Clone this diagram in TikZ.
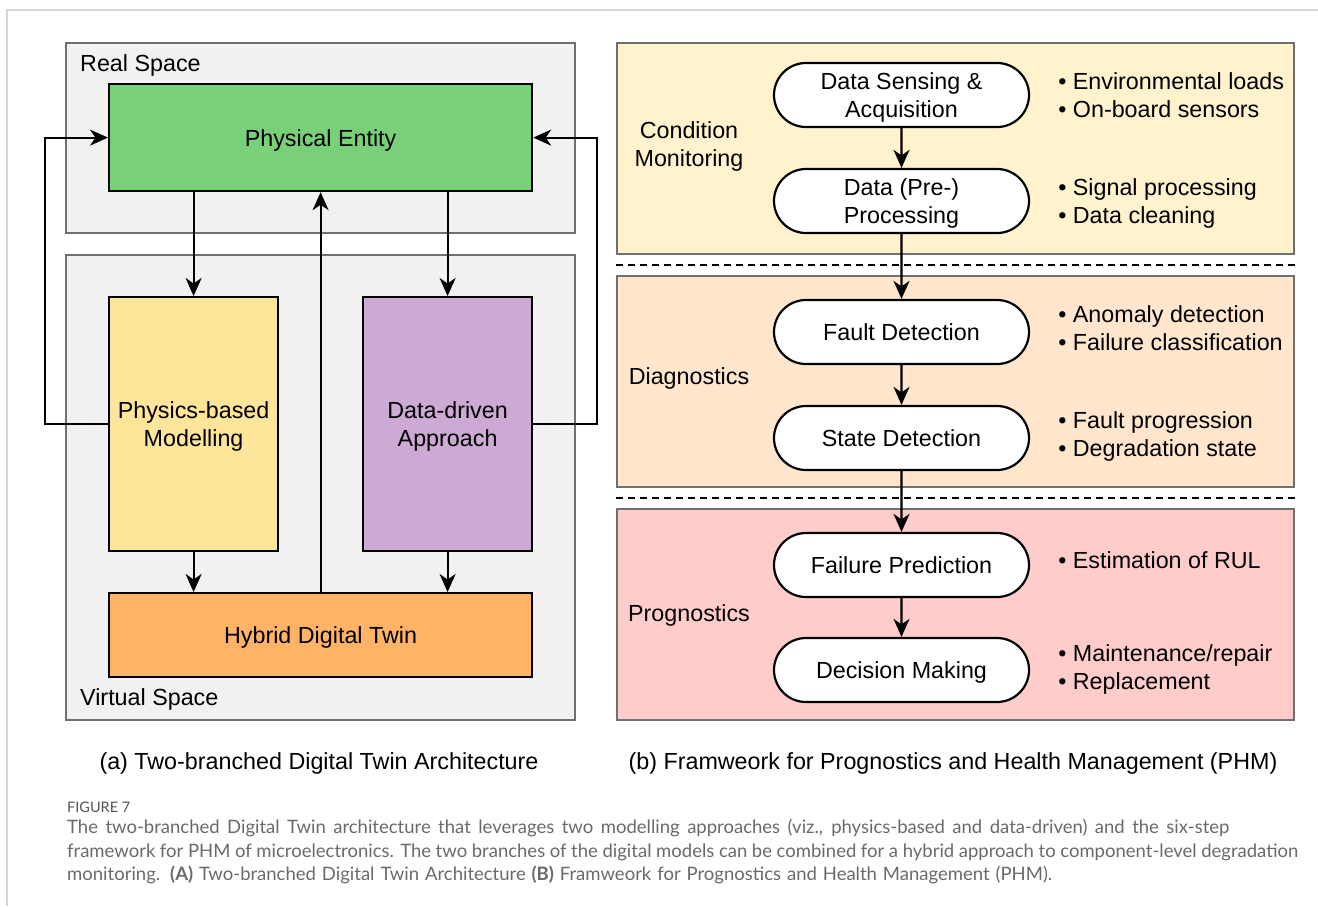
\documentclass[tikz,border=0pt]{standalone}
\usepackage{fontspec}
\setmainfont{Liberation Sans}
\newfontfamily\capfont{Lato}
\usetikzlibrary{arrows.meta,shapes.misc,calc}
\definecolor{framegray}{HTML}{D6D6D6}
\definecolor{contfill}{HTML}{F1F1F1}
\definecolor{contdraw}{HTML}{707070}
\definecolor{pegreen}{HTML}{78D178}
\definecolor{pmyellow}{HTML}{FEE599}
\definecolor{ddpurple}{HTML}{CDAAD4}
\definecolor{hyorange}{HTML}{FFB366}
\definecolor{cmband}{HTML}{FFF2CC}
\definecolor{dgband}{HTML}{FFE6CC}
\definecolor{pgband}{HTML}{FFCCCC}
\definecolor{capgray}{HTML}{6A6A6A}
\definecolor{figgray}{HTML}{555555}
\begin{document}
\begin{tikzpicture}[x=1pt,y=-1pt,
  every node/.style={font=\fontsize{23.3}{28}\selectfont, text depth=0pt},
  container/.style={draw=contdraw, fill=contfill, line width=2pt, anchor=north west, inner sep=0pt},
  band/.style={draw=contdraw, line width=2pt, anchor=north west, inner sep=0pt, minimum width=677pt, minimum height=211pt},
  box/.style={draw=black, line width=2.2pt, anchor=north west, inner sep=0pt, align=center},
  pill/.style={draw=black, fill=white, line width=2.2pt, rounded rectangle, minimum width=255pt, minimum height=64pt, inner sep=0pt, align=center},
  bullets/.style={anchor=west, align=left, inner sep=0pt},
  arr/.style={line width=2.2pt, -{Stealth[length=18pt, width=16pt, inset=5.5pt]}},
  sep/.style={line width=2pt, dash pattern=on 7pt off 5pt},
  captxt/.style={anchor=base west, inner sep=0pt, text=capgray, font=\capfont\fontsize{18.5}{23}\selectfont}
]
\useasboundingbox (0,0) rectangle (1318,906);
\fill[white] (0,0) rectangle (1318,906);
\draw[framegray, line width=1.5pt] (7,906) -- (7,10) -- (1318,10);

% ---------- (a) ----------
\node[container, minimum width=509pt, minimum height=190pt] (real) at (65,42) {};
\node[container, minimum width=509pt, minimum height=465pt] (virt) at (65,254) {};
\node[anchor=base west, inner sep=0pt] (rsl) at (80,71) {Real Space};
\node[anchor=base west, inner sep=0pt] (vsl) at (80,705) {Virtual Space};

\node[box, fill=pegreen, minimum width=423pt, minimum height=107pt] (pe) at (108,83) {Physical Entity};
\node[box, fill=pmyellow, minimum width=169pt, minimum height=254pt] (pm) at (108,296) {Physics-based\\Modelling};
\node[box, fill=ddpurple, minimum width=169pt, minimum height=254pt] (dd) at (362,296) {Data-driven\\Approach};
\node[box, fill=hyorange, minimum width=423pt, minimum height=84pt] (hy) at (108,592) {Hybrid Digital Twin};

\draw[arr] (pm.north |- pe.south) -- (pm.north);
\draw[arr] (dd.north |- pe.south) -- (dd.north);
\draw[arr] (hy.north) -- (pe.south);
\draw[arr] (pm.south) -- (pm.south |- hy.north);
\draw[arr] (dd.south) -- (dd.south |- hy.north);
\draw[arr] (pm.west) -- ++(-63,0) |- (pe.west);
\draw[arr] (dd.east) -- ++(64,0) |- (pe.east);

\node (capa) at (319,761) {(a) Two-branched Digital Twin Architecture};

% ---------- (b) ----------
\node[band, fill=cmband] (cm) at (616,42) {};
\node[band, fill=dgband] (dg) at (616,275) {};
\node[band, fill=pgband] (pg) at (616,508) {};
\draw[sep] ($(cm.south west)!0.5!(dg.north west)$) -- ($(cm.south east)!0.5!(dg.north east)$);
\draw[sep] ($(dg.south west)!0.5!(pg.north west)$) -- ($(dg.south east)!0.5!(pg.north east)$);

\node[align=center] (cml) at (689,144) {Condition\\Monitoring};
\node (dgl) at (689,376) {Diagnostics};
\node (pgl) at (689,613) {Prognostics};

\node[pill] (ds) at (901.5,95) {Data Sensing \&\\Acquisition};
\node[pill] (dp) at (901.5,201) {Data (Pre-)\\Processing};
\node[pill] (fd) at (901.5,332) {Fault Detection};
\node[pill] (sd) at (901.5,438) {State Detection};
\node[pill] (fp) at (901.5,565) {Failure Prediction};
\node[pill] (dm) at (901.5,670) {Decision Making};

\draw[arr] (ds) -- (dp);
\draw[arr] (dp) -- (fd);
\draw[arr] (fd) -- (sd);
\draw[arr] (sd) -- (fp);
\draw[arr] (fp) -- (dm);

\node[bullets] (b1) at ([xshift=28pt]ds.east) {• Environmental loads\\• On-board sensors};
\node[bullets] (b2) at ([xshift=28pt]dp.east) {• Signal processing\\• Data cleaning};
\node[bullets] (b3) at ([xshift=28pt,yshift=4pt]fd.east) {• Anomaly detection\\• Failure classification};
\node[bullets] (b4) at ([xshift=28pt,yshift=3.5pt]sd.east) {• Fault progression\\• Degradation state};
\node[bullets] (b5) at ([xshift=28pt,yshift=5pt]fp.east) {• Estimation of RUL};
\node[bullets] (b6) at ([xshift=28pt,yshift=3pt]dm.east) {• Maintenance/repair\\• Replacement};

\node (capb) at (953,761) {(b) Framweork for Prognostics and Health Management (PHM)};

% ---------- caption ----------
\node[captxt, text=figgray, font=\capfont\fontsize{14.5}{17}\selectfont] (fig) at (67,812) {FIGURE 7};
\node[captxt] (l1) at (67,833) {\makebox[1162pt][s]{The two-branched Digital Twin architecture that leverages two modelling approaches (viz., physics-based and data-driven) and the six-step}};
\node[captxt] (l2) at (67,857) {\makebox[1231pt][s]{framework for PHM of microelectronics. The two branches of the digital models can be combined for a hybrid approach to component-level degradation}};
\node[captxt] (l3) at (67,880) {\makebox[985pt][s]{monitoring. \textbf{(A)} Two-branched Digital Twin Architecture \textbf{(B)} Framweork for Prognostics and Health Management (PHM).}};
\end{tikzpicture}
\end{document}
